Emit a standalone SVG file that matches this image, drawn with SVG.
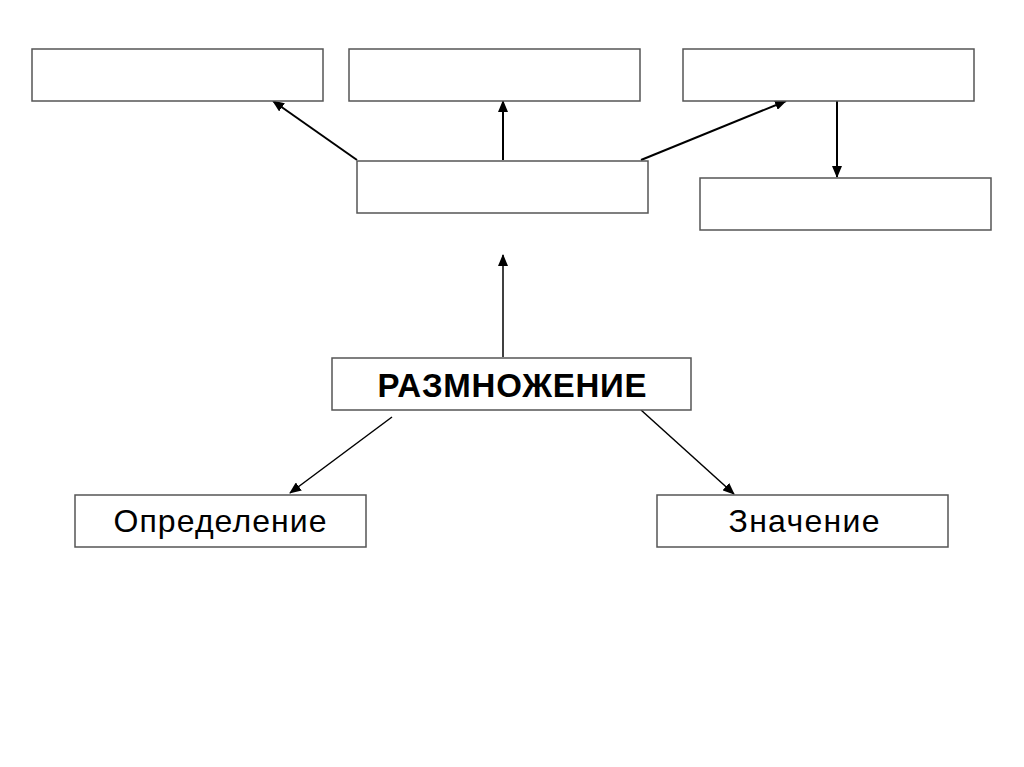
<svg xmlns="http://www.w3.org/2000/svg" width="1024" height="767" viewBox="0 0 1024 767">
<style>
.box{fill:#fff;stroke:#555;stroke-width:1.5}
.ln{stroke:#000;stroke-width:2;fill:none;marker-end:url(#ah)}
.ln2{stroke:#000;stroke-width:1.5;fill:none;marker-end:url(#ah)}
.t{font-family:"Liberation Sans",Arial,sans-serif;fill:#000;text-anchor:middle}
</style>
<defs>
<marker id="ah" markerUnits="userSpaceOnUse" markerWidth="12" markerHeight="10" refX="11" refY="5" orient="auto">
<path d="M0,0 L12,5 L0,10 Z" fill="#000"/>
</marker>
</defs>
<rect width="1024" height="767" fill="#fff"/>
<g id="connectors">
<line class="ln" x1="357" y1="160" x2="273" y2="101"/>
<line class="ln" x1="503" y1="160" x2="503" y2="101"/>
<line class="ln" x1="641" y1="160" x2="786" y2="101"/>
<line class="ln" x1="837" y1="101" x2="837" y2="177"/>
<line class="ln2" x1="503" y1="357" x2="503" y2="255"/>
<line class="ln2" x1="392" y1="417" x2="290" y2="493"/>
<line class="ln2" x1="641" y1="410" x2="734" y2="494"/>
</g>
<g id="box-top1"><rect class="box" x="32" y="49" width="291" height="52"/></g>
<g id="box-top2"><rect class="box" x="349" y="49" width="291" height="52"/></g>
<g id="box-top3"><rect class="box" x="683" y="49" width="291" height="52"/></g>
<g id="box-center"><rect class="box" x="357" y="161" width="291" height="52"/></g>
<g id="box-right"><rect class="box" x="700" y="178" width="291" height="52"/></g>
<g id="node-main"><rect class="box" x="332" y="358" width="359" height="52"/>
<text class="t" x="512" y="397" font-size="33" font-weight="bold" textLength="269" lengthAdjust="spacing">РАЗМНОЖЕНИЕ</text></g>
<g id="node-def"><rect class="box" x="75" y="495" width="291" height="52"/>
<text class="t" x="220" y="531.5" font-size="32" textLength="213" lengthAdjust="spacing">Определение</text></g>
<g id="node-val"><rect class="box" x="657" y="495" width="291" height="52"/>
<text class="t" x="804" y="531.5" font-size="32" textLength="151" lengthAdjust="spacing">Значение</text></g>
</svg>
